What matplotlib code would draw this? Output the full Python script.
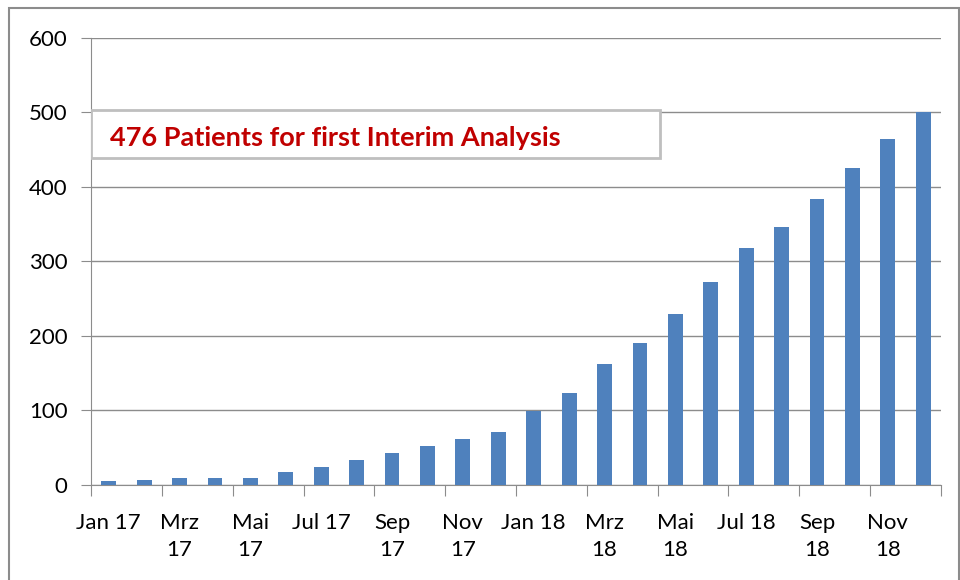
import matplotlib
matplotlib.use("Agg")
import matplotlib.pyplot as plt
from matplotlib.patches import Rectangle
import numpy as np

months = ["Jan 17", "Feb 17", "Mrz\n17", "Apr 17", "Mai\n17", "Jun 17", "Jul 17", "Aug 17",
          "Sep\n17", "Okt 17", "Nov\n17", "Dez 17", "Jan 18", "Feb 18", "Mrz\n18", "Apr 18",
          "Mai\n18", "Jun 18", "Jul 18", "Aug 18", "Sep\n18", "Okt 18", "Nov\n18", "Dez 18"]
patients = [5, 7, 9, 9, 9, 17, 24, 33, 43, 52, 62, 71, 99, 124, 162, 190,
            229, 273, 318, 346, 384, 425, 464, 500]
annotation = "476 Patients for first Interim Analysis"

plt.rcParams['font.family'] = ['Lato', 'DejaVu Sans']

fig = plt.figure(figsize=(9.6, 5.8), dpi=100)
ax = fig.add_axes([0.0948, 0.1638, 0.8854, 0.7707])

x = np.arange(len(months))
ax.bar(x, patients, width=0.42, color="#4F81BD", zorder=3)

ax.set_xlim(-0.5, len(months) - 0.5)
ax.set_ylim(0, 600)
ax.set_yticks(np.arange(0, 601, 100))
ax.yaxis.grid(True, color="#8C8C8C", linewidth=1.0, zorder=0)
ax.tick_params(axis='y', labelsize=16, length=7, color="#8C8C8C", pad=10)

# x: tick marks at boundaries every two categories, labels at every second bar
ax.set_xticks(np.arange(-0.5, len(months), 2))
ax.set_xticklabels([])
ax.tick_params(axis='x', which='major', length=8, color="#8C8C8C")
ax.set_xticks(x[::2], minor=True)
ax.set_xticklabels(months[::2], minor=True, fontsize=16, linespacing=1.45, va='top')
ax.tick_params(axis='x', which='minor', length=0, pad=20)

for s in ['top', 'right']:
    ax.spines[s].set_visible(False)
ax.spines['left'].set_color("#8C8C8C")
ax.spines['bottom'].set_color("#8C8C8C")

# annotation box
ax.add_patch(Rectangle((0.0, 0.7315), 0.669, 0.1075, transform=ax.transAxes,
                       facecolor="white", edgecolor="#BFBFBF", linewidth=2, zorder=4))
ax.text(0.022, 0.7765, annotation, transform=ax.transAxes, color="#C00000",
        fontsize=19.5, fontweight='bold', va='center', ha='left', zorder=5)

# figure border
fig.patches.append(Rectangle((0.009, -0.01), 0.99, 0.996, transform=fig.transFigure,
                             facecolor='none', edgecolor="#8C8C8C", linewidth=1.5))

fig.savefig("out.png", dpi=100)
